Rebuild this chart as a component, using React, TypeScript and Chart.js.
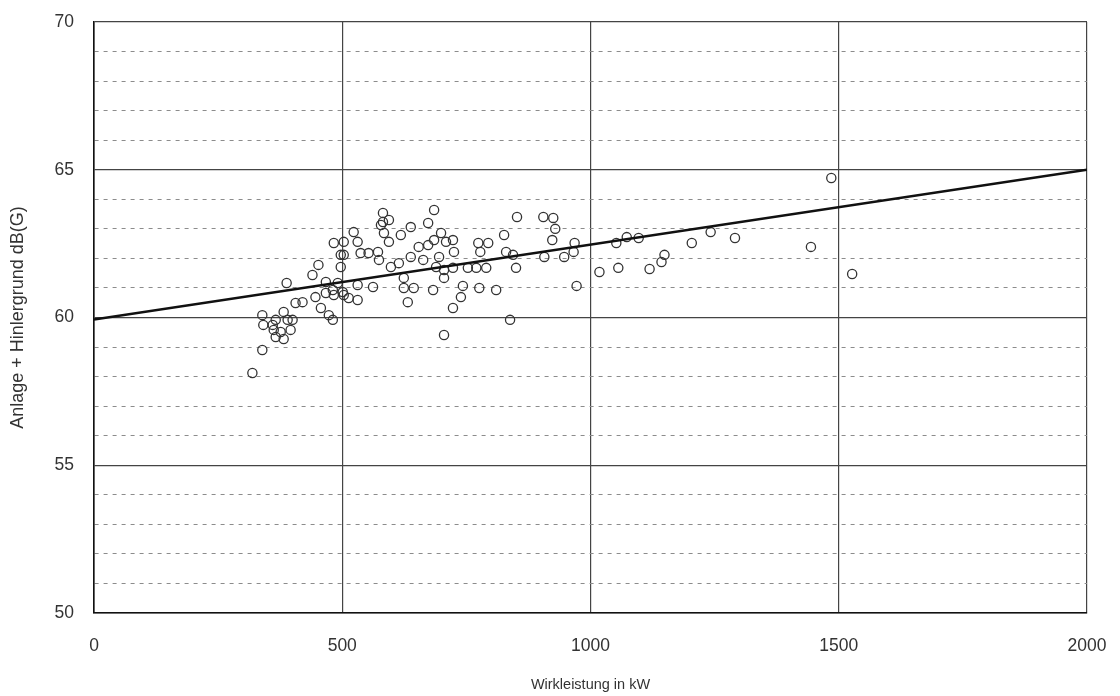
import React, { useEffect, useRef } from "react";
import { Chart, registerables } from "chart.js";

Chart.register(...registerables);

// Scatter measurements: active power (kW) vs. level (dB(G))
const powerKW = [
  319, 339, 339, 341, 360, 366, 382, 390, 396, 382, 366, 362, 376, 400, 388, 406, 420, 440, 452, 446,
  457, 467, 473, 481, 481, 497, 497, 501, 467, 523, 503, 483, 531, 503, 537, 553, 572, 574, 598, 578,
  584, 594, 618, 638, 673, 654, 673, 685, 638, 663, 614, 624, 624, 644, 632, 683, 562, 531, 491, 503,
  513, 531, 483, 685, 699, 709, 723, 725, 695, 689, 705, 723, 705, 743, 739, 723, 753, 770, 774, 794,
  778, 790, 776, 810, 826, 830, 844, 850, 852, 838, 705, 905, 925, 929, 923, 968, 947, 907, 966, 1018,
  1056, 972, 1052, 1073, 1097, 1119, 1143, 1149, 1204, 1242, 1291, 1444, 1485, 1527, 582, 594, 582,
];
const levelDB = [
  58.12, 58.9, 60.08, 59.75, 59.75, 59.92, 60.19, 59.92, 59.58, 59.27, 59.34, 59.58, 59.51, 59.92, 61.17, 60.49, 60.52, 61.44, 61.78, 60.69,
  60.32, 60.83, 60.08, 59.92, 60.93, 62.12, 61.71, 60.86, 61.2, 62.89, 62.56, 62.52, 62.56, 62.12, 62.18, 62.18, 62.22, 61.95, 61.71, 63.13,
  62.86, 62.56, 62.79, 63.06, 63.2, 62.39, 62.45, 62.62, 62.05, 61.95, 61.84, 61.34, 61.0, 61.0, 60.52, 60.93, 61.03, 61.1, 61.17, 60.76,
  60.66, 60.59, 60.76, 63.64, 62.86, 62.56, 62.62, 62.22, 62.05, 61.71, 61.61, 61.68, 61.34, 61.07, 60.69, 60.32, 61.68, 61.68, 62.52, 62.52,
  62.22, 61.68, 61.0, 60.93, 62.79, 62.22, 62.12, 61.68, 63.4, 59.92, 59.41, 63.4, 63.37, 63.0, 62.62, 62.52, 62.05, 62.05, 62.22, 61.54,
  61.68, 61.07, 62.52, 62.72, 62.69, 61.64, 61.88, 62.12, 62.52, 62.89, 62.69, 62.39, 64.72, 61.47, 63.54, 63.3, 63.23,
];

// Regression line end points
const trendX = [0, 2000];
const trendY = [59.93, 65.0];

const xTicks = [0, 500, 1000, 1500, 2000];
const yLabelStep = 5;

const xTitle = "Wirkleistung in kW";
const yTitle = "Anlage + Hinlergrund dB(G)";

export default function App() {
  const ref = useRef<HTMLCanvasElement | null>(null);

  useEffect(() => {
    document.body.style.margin = "0";
    const canvas = ref.current;
    if (!canvas) return;
    const font = "'Liberation Sans', Arial, sans-serif";
    const chart = new Chart(canvas, {
      type: "scatter",
      data: {
        datasets: [
          {
            type: "line",
            data: trendX.map((x, i) => ({ x, y: trendY[i] })),
            borderColor: "#111",
            borderWidth: 2.6,
            pointRadius: 0,
            fill: false,
            order: 0,
          },
          {
            type: "scatter",
            data: powerKW.map((x, i) => ({ x, y: levelDB[i] })),
            pointRadius: 4.6,
            pointBorderWidth: 1.3,
            borderColor: "#333",
            backgroundColor: "rgba(0,0,0,0)",
            pointBackgroundColor: "rgba(0,0,0,0)",
            order: 1,
          },
        ],
      },
      options: {
        responsive: false,
        animation: false,
        layout: { padding: { left: 0, top: 22, right: 33, bottom: 0 } },
        plugins: { legend: { display: false }, tooltip: { enabled: false } },
        scales: {
          x: {
            type: "linear",
            min: xTicks[0],
            max: xTicks[xTicks.length - 1],
            afterFit: (s: any) => {
              s.height = 83;
              s.paddingLeft = 0;
              s.paddingRight = 0;
            },
            afterBuildTicks: (s: any) => {
              s.ticks = xTicks.map((v) => ({ value: v }));
            },
            ticks: {
              padding: 23,
              color: "#333",
              font: { family: font, size: 17.5 },
              maxRotation: 0,
              callback: (v: any) => String(v),
            },
            grid: { color: "#444", lineWidth: 1.2, drawTicks: false },
            border: { display: true, color: "#111", width: 1.6 },
            title: {
              display: true,
              text: xTitle,
              color: "#333",
              font: { family: font, size: 14.5 },
              padding: { top: 0, bottom: 2 },
            },
          },
          y: {
            type: "linear",
            min: 50,
            max: 70,
            afterFit: (s: any) => {
              s.width = 94;
              s.paddingTop = 0;
              s.paddingBottom = 0;
            },
            ticks: {
              stepSize: 1,
              padding: 20,
              color: "#333",
              font: { family: font, size: 17.5 },
              callback: (v: any) => (Number(v) % yLabelStep === 0 ? String(v) : ""),
            },
            grid: {
              drawTicks: false,
              color: (ctx: any) =>
                ctx.tick && ctx.tick.value % yLabelStep === 0 ? "#444" : "#8c8c8c",
              lineWidth: (ctx: any) =>
                ctx.tick && ctx.tick.value % yLabelStep === 0 ? 1.2 : 1,
            },
            border: {
              display: true,
              color: "#111",
              width: 1.6,
              dash: (ctx: any) =>
                ctx.tick && ctx.tick.value % yLabelStep !== 0 ? [4, 5] : [],
            },
            title: {
              display: true,
              text: yTitle,
              color: "#333",
              font: { family: font, size: 18 },
              padding: { top: 7, bottom: 0 },
            },
          },
        },
      },
    });
    return () => chart.destroy();
  }, []);

  return (
    <div style={{ position: "absolute", left: 0, top: 0, width: 1120, height: 696, background: "#fff" }}>
      <canvas ref={ref} width={1120} height={696} />
    </div>
  );
}
